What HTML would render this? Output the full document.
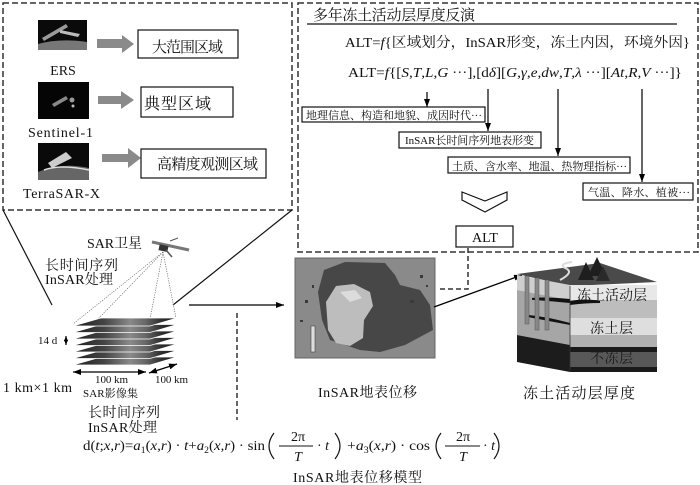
<!DOCTYPE html>
<html><head><meta charset="utf-8">
<style>
html,body{margin:0;padding:0;background:#fff;}
svg{display:block;font-family:"Liberation Serif","Noto Serif CJK SC",serif;}
text{fill:#111;}
</style></head><body>
<svg width="700" height="485" viewBox="0 0 700 485" xmlns="http://www.w3.org/2000/svg">
<defs>
<marker id="ah" markerWidth="8" markerHeight="6" refX="8" refY="3" orient="auto-start-reverse" markerUnits="userSpaceOnUse">
<path d="M0,0 L8,3 L0,6 Z" fill="#000"/>
</marker>
<marker id="ahs" markerWidth="5" markerHeight="4" refX="5" refY="2" orient="auto-start-reverse" markerUnits="userSpaceOnUse">
<path d="M0,0 L5,2 L0,4 Z" fill="#000"/>
</marker>
<linearGradient id="stk" x1="0" x2="1" y1="0" y2="0">
<stop offset="0" stop-color="#1e1e1e"/><stop offset="0.3" stop-color="#444"/><stop offset="0.55" stop-color="#8a8a8a"/><stop offset="0.7" stop-color="#666"/><stop offset="0.85" stop-color="#2e2e2e"/><stop offset="1" stop-color="#1a1a1a"/>
</linearGradient>
</defs>

<!-- top-left dashed box -->
<rect x="3" y="3" width="289" height="207" fill="none" stroke="#333" stroke-width="1.5" stroke-dasharray="6 3"/>
<!-- top-right dashed box -->
<rect x="298" y="3" width="400" height="249" fill="none" stroke="#333" stroke-width="1.5" stroke-dasharray="6 3"/>

<!-- satellite thumbnails -->
<rect x="38" y="20" width="49" height="30" fill="#0a0a0a"/>
<path d="M42,38 L66,24 L68,27 L44,41 Z" fill="#9a9a9a"/>
<path d="M60,30 L80,34 L78,37 L60,33 Z" fill="#bbb"/>
<path d="M38,44 Q60,38 87,42 L87,50 L38,50 Z" fill="#777"/>
<rect x="38" y="82" width="51" height="37" fill="#050505"/>
<path d="M52,104 L66,96 L68,99 L54,107 Z" fill="#888"/>
<circle cx="72" cy="100" r="2.5" fill="#999"/>
<circle cx="73" cy="106" r="1.5" fill="#bbb"/>
<rect x="38" y="143" width="51" height="37" fill="#0a0a0a"/>
<path d="M48,163 L66,152 L72,158 L52,168 Z" fill="#ccc"/>
<path d="M38,172 Q62,162 89,168 L89,180 L38,180 Z" fill="#666"/>
<path d="M44,170 Q60,164 89,170" stroke="#ddd" stroke-width="1.5" fill="none"/>

<text x="63" y="75" font-size="14" text-anchor="middle">ERS</text>
<text x="28" y="137" font-size="14" textLength="65">Sentinel-1</text>
<text x="23" y="198" font-size="14" textLength="77">TerraSAR-X</text>

<!-- gray block arrows -->
<polygon points="97,39 122,39 122,35 134,44 122,53 122,48 97,48" fill="#8a8a8a"/>
<polygon points="98,96 121,96 121,91 134,100 121,109 121,104 98,104" fill="#8a8a8a"/>
<polygon points="102,154 128,154 128,148 141,158 128,168 128,162 102,162" fill="#8a8a8a"/>

<rect x="138" y="30" width="100" height="28" fill="#fff" stroke="#111" stroke-width="1.2"/>
<text x="152" y="52" font-size="15" textLength="71">大范围区域</text>
<rect x="141" y="87" width="92" height="30" fill="#fff" stroke="#111" stroke-width="1.2"/>
<text x="144" y="109" font-size="16" textLength="67">典型区域</text>
<rect x="141" y="149" width="125" height="29" fill="#fff" stroke="#111" stroke-width="1.2"/>
<text x="157" y="169" font-size="15" textLength="101">高精度观测区域</text>

<!-- top-right content -->
<text x="313" y="20" font-size="15" textLength="162">多年冻土活动层厚度反演</text>
<line x1="307" y1="24" x2="677" y2="24" stroke="#111" stroke-width="1.2"/>
<text x="345" y="47" font-size="14" textLength="345" lengthAdjust="spacingAndGlyphs">ALT=<tspan font-style="italic">f</tspan>{区域划分，InSAR形变，冻土内因，环境外因}</text>
<text x="348" y="77" font-size="14" textLength="334" lengthAdjust="spacingAndGlyphs">ALT=<tspan font-style="italic">f</tspan>{[<tspan font-style="italic">S</tspan>,<tspan font-style="italic">T</tspan>,<tspan font-style="italic">L</tspan>,<tspan font-style="italic">G</tspan> ···],[d<tspan font-style="italic">δ</tspan>][<tspan font-style="italic">G</tspan>,<tspan font-style="italic">γ</tspan>,<tspan font-style="italic">e</tspan>,<tspan font-style="italic">dw</tspan>,<tspan font-style="italic">T</tspan>,<tspan font-style="italic">λ</tspan> ···][<tspan font-style="italic">At</tspan>,<tspan font-style="italic">R</tspan>,<tspan font-style="italic">V</tspan> ···]}</text>

<line x1="427" y1="92" x2="427" y2="107" stroke="#000" stroke-width="1.2" marker-end="url(#ah)"/>
<line x1="488" y1="89" x2="488" y2="131" stroke="#000" stroke-width="1.2" marker-end="url(#ah)"/>
<line x1="558" y1="89" x2="558" y2="156" stroke="#000" stroke-width="1.2" marker-end="url(#ah)"/>
<line x1="642" y1="89" x2="642" y2="182" stroke="#000" stroke-width="1.2" marker-end="url(#ah)"/>

<rect x="302" y="107" width="183" height="15" fill="#fff" stroke="#111" stroke-width="1.2"/>
<text x="306" y="119" font-size="11" textLength="176">地理信息、构造和地貌、成因时代···</text>
<rect x="399" y="132" width="142" height="16" fill="#fff" stroke="#111" stroke-width="1.2"/>
<text x="405" y="144" font-size="11" textLength="129">InSAR长时间序列地表形变</text>
<rect x="448" y="157" width="182" height="16" fill="#fff" stroke="#111" stroke-width="1.2"/>
<text x="452" y="170" font-size="11" textLength="175">土质、含水率、地温、热物理指标···</text>
<rect x="583" y="183" width="110" height="17" fill="#fff" stroke="#111" stroke-width="1.2"/>
<text x="588" y="196" font-size="11" textLength="102">气温、降水、植被···</text>

<polygon points="462,192 485,201 507,192 507,200 485,212 462,200" fill="#fff" stroke="#111" stroke-width="1.2"/>
<rect x="456" y="226" width="57" height="21" fill="#fff" stroke="#111" stroke-width="1.2"/>
<text x="485" y="242" font-size="14" text-anchor="middle">ALT</text>

<!-- connectors from top-left box -->
<line x1="3" y1="210" x2="52" y2="305" stroke="#111" stroke-width="1.2"/>
<line x1="292" y1="210" x2="173" y2="305" stroke="#111" stroke-width="1.2"/>

<!-- SAR satellite -->
<text x="87" y="248" font-size="14" textLength="55">SAR卫星</text>
<line x1="152" y1="242" x2="189" y2="250" stroke="#777" stroke-width="3"/>
<rect x="159" y="245" width="9" height="6" fill="#333" transform="rotate(12 163 248)"/>
<line x1="166" y1="250" x2="172" y2="257" stroke="#555" stroke-width="1.5"/>
<line x1="170" y1="241" x2="178" y2="238" stroke="#555" stroke-width="1"/>

<text x="45" y="270" font-size="14" textLength="73">长时间序列</text>
<text x="45" y="284" font-size="14" textLength="68">InSAR处理</text>

<!-- footprint lines -->
<g stroke="#666" stroke-width="0.7" stroke-dasharray="1.2 1.2">
<line x1="163" y1="252" x2="73" y2="324"/>
<line x1="163" y1="252" x2="98" y2="319"/>
<line x1="163" y1="252" x2="150" y2="319"/>
<line x1="163" y1="252" x2="176" y2="318"/>
</g>

<!-- stack -->
<g stroke="#fff" stroke-width="0.8" fill="url(#stk)">
<polygon points="73,365 101,357 177,357 150,365"/>
<polygon points="73,358.5 101,350.5 177,350.5 150,358.5"/>
<polygon points="73,352 101,344 177,344 150,352"/>
<polygon points="73,345.5 101,337.5 177,337.5 150,345.5"/>
<polygon points="73,339 101,331 177,331 150,339"/>
<polygon points="73,332.5 101,324.5 177,324.5 150,332.5"/>
<polygon points="73,326 101,318 177,318 150,326"/>
</g>

<text x="38" y="344" font-size="11">14 d</text>
<line x1="66" y1="336" x2="66" y2="345" stroke="#000" stroke-width="1.2" marker-start="url(#ahs)" marker-end="url(#ahs)"/>
<line x1="73" y1="372" x2="146" y2="372" stroke="#000" stroke-width="1.2" marker-start="url(#ah)" marker-end="url(#ah)"/>
<line x1="149" y1="373" x2="177" y2="364" stroke="#000" stroke-width="1.2" marker-start="url(#ah)" marker-end="url(#ah)"/>
<text x="3" y="392" font-size="14" textLength="69">1 km×1 km</text>
<text x="95" y="383" font-size="11" textLength="33">100 km</text>
<text x="83" y="397" font-size="11" textLength="55">SAR影像集</text>
<text x="155" y="383" font-size="11" textLength="33">100 km</text>
<text x="88" y="417" font-size="14" textLength="72">长时间序列</text>
<text x="88" y="432" font-size="14" textLength="69">InSAR处理</text>

<line x1="189" y1="305" x2="284" y2="305" stroke="#000" stroke-width="1.3" marker-end="url(#ah)"/>
<line x1="237" y1="313" x2="237" y2="420" stroke="#333" stroke-width="1.5" stroke-dasharray="5 3"/>

<!-- InSAR image -->
<rect x="295" y="258" width="140" height="100" fill="#8a8a8a" stroke="#666" stroke-width="1"/>
<path d="M318,292 L324,270 L345,262 L385,263 L395,275 L400,285 L420,290 L430,305 L433,330 L405,345 L380,352 L360,350 L345,345 L330,340 L322,320 Z" fill="#474747"/>
<path d="M326,302 L336,286 L354,284 L370,292 L373,306 L364,320 L363,338 L350,346 L336,343 L328,330 Z" fill="#bdbdbd"/>
<path d="M340,292 L355,290 L362,298 L350,302 Z" fill="#dcdcdc"/>
<g fill="#3a3a3a">
<rect x="305" y="300" width="3" height="3"/><rect x="312" y="285" width="2" height="3"/><rect x="300" y="320" width="3" height="2"/>
<rect x="420" y="275" width="3" height="3"/><rect x="426" y="285" width="2" height="2"/><rect x="410" y="300" width="4" height="3"/>
</g>
<rect x="311" y="326" width="4" height="26" fill="#ddd" stroke="#444" stroke-width="0.6"/>

<!-- dashed L from ALT -->
<polyline points="468,248 468,289 437,289" fill="none" stroke="#333" stroke-width="1.5" stroke-dasharray="5 3"/>

<line x1="434" y1="307" x2="522" y2="275" stroke="#000" stroke-width="1.3" marker-end="url(#ah)"/>

<!-- block diagram -->
<polygon points="517,274 600,263 657,282 570,286" fill="#4a4a4a"/>
<path d="M560,280 Q575,272 565,268 Q558,264 572,262" stroke="#ddd" stroke-width="2" fill="none"/>
<polygon points="578,280 586,262 594,280" fill="#1e1e1e"/>
<polygon points="588,276 597,257 606,276" fill="#1e1e1e"/>
<polygon points="596,281 603,266 610,281" fill="#2a2a2a"/>
<g transform="translate(517,275) skewY(10.7)">
<rect x="0" y="0" width="53" height="15" fill="#cfcfcf"/>
<rect x="0" y="15" width="53" height="45" fill="#a6a6a6"/>
<rect x="0" y="60" width="53" height="27" fill="#1c1c1c"/>
<path d="M15,20 Q30,16 53,14 L53,18 Q30,20 15,22 Z" fill="#111"/>
<path d="M10,38 Q30,36 53,38 L53,40 Q30,40 10,40 Z" fill="#111"/>
</g>
<rect x="525" y="276" width="4" height="48" fill="#888" stroke="#555" stroke-width="0.5"/>
<rect x="535" y="278" width="4" height="52" fill="#888" stroke="#555" stroke-width="0.5"/>
<rect x="545" y="280" width="4" height="50" fill="#888" stroke="#555" stroke-width="0.5"/>
<rect x="570" y="285" width="87" height="15" fill="#e8e8e8"/>
<rect x="570" y="300" width="87" height="18" fill="#bdbdbd"/>
<rect x="570" y="318" width="87" height="17" fill="#dedede"/>
<rect x="570" y="335" width="87" height="12" fill="#b0b0b0"/>
<rect x="570" y="347" width="87" height="5" fill="#1a1a1a"/>
<rect x="570" y="352" width="87" height="15" fill="#585858"/>
<rect x="570" y="367" width="87" height="5" fill="#1a1a1a"/>
<path d="M570,301 Q585,298 600,301 L600,303 Q585,303 570,305 Z" fill="#111"/>
<line x1="570" y1="286" x2="570" y2="372" stroke="#333" stroke-width="0.8"/>
<text x="577" y="300" font-size="14" textLength="70">冻土活动层</text>
<text x="590" y="333" font-size="14" textLength="43">冻土层</text>
<text x="590" y="363" font-size="14" textLength="43" style="fill:#1a1a1a">不冻层</text>

<text x="318" y="397" font-size="14" textLength="99">InSAR地表位移</text>
<text x="523" y="398" font-size="15" textLength="112">冻土活动层厚度</text>

<!-- formula -->
<text x="83" y="450" font-size="14" textLength="182" lengthAdjust="spacingAndGlyphs">d(<tspan font-style="italic">t</tspan>;<tspan font-style="italic">x</tspan>,<tspan font-style="italic">r</tspan>)=<tspan font-style="italic">a</tspan><tspan font-size="9" dy="3">1</tspan><tspan dy="-3">(</tspan><tspan font-style="italic">x</tspan>,<tspan font-style="italic">r</tspan>) · <tspan font-style="italic">t</tspan>+<tspan font-style="italic">a</tspan><tspan font-size="9" dy="3">2</tspan><tspan dy="-3">(</tspan><tspan font-style="italic">x</tspan>,<tspan font-style="italic">r</tspan>) · sin</text>
<path d="M274,433 Q264,446 274,459" fill="none" stroke="#111" stroke-width="1.2"/>
<text x="298" y="441" font-size="14" text-anchor="middle">2π</text>
<line x1="279" y1="446" x2="313" y2="446" stroke="#111" stroke-width="1"/>
<text x="298" y="461" font-size="14" text-anchor="middle" font-style="italic">T</text>
<text x="317" y="450" font-size="14">· <tspan font-style="italic">t</tspan></text>
<path d="M335,433 Q345,446 335,459" fill="none" stroke="#111" stroke-width="1.2"/>
<text x="347" y="450" font-size="14" textLength="83" lengthAdjust="spacingAndGlyphs">+<tspan font-style="italic">a</tspan><tspan font-size="9" dy="3">3</tspan><tspan dy="-3">(</tspan><tspan font-style="italic">x</tspan>,<tspan font-style="italic">r</tspan>) · cos</text>
<path d="M441,433 Q431,446 441,459" fill="none" stroke="#111" stroke-width="1.2"/>
<text x="463" y="441" font-size="14" text-anchor="middle">2π</text>
<line x1="445" y1="446" x2="480" y2="446" stroke="#111" stroke-width="1"/>
<text x="463" y="461" font-size="14" text-anchor="middle" font-style="italic">T</text>
<text x="483" y="450" font-size="14">· <tspan font-style="italic">t</tspan></text>
<path d="M494,433 Q504,446 494,459" fill="none" stroke="#111" stroke-width="1.2"/>

<text x="293" y="482" font-size="14" textLength="129">InSAR地表位移模型</text>
</svg>
</body></html>
